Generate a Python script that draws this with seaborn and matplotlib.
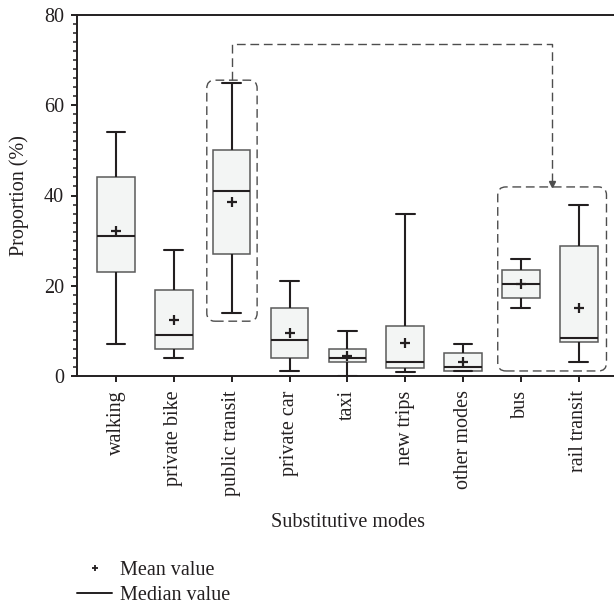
import numpy as np
import pandas as pd
import seaborn as sns
import matplotlib.pyplot as plt
from matplotlib.patches import FancyBboxPatch
from matplotlib.lines import Line2D
from matplotlib.ticker import MultipleLocator

# values (proportion, %)
modes = ["walking", "private bike", "public transit", "private car", "taxi",
         "new trips", "other modes", "bus", "rail transit"]
whisker_low = [7, 4, 14, 1, 0, 0.9, 1, 15, 3]
q1 = [23, 6, 27, 4, 3, 1.6, 1.1, 17.3, 7.4]
median = [31, 9, 41, 8, 4, 3, 2, 20.4, 8.4]
q3 = [44, 19, 50, 15, 6, 11, 5, 23.5, 28.7]
whisker_high = [54, 28, 65, 21, 10, 36, 7, 26, 38]
mean = [32.2, 12.4, 38.6, 9.5, 4.4, 7.3, 3.0, 20.4, 15.0]

# grouping annotation: public transit -> bus + rail transit
group_from = (1.57, 12.1, 2.44, 65.6)   # x0, y0, x1, y1
group_to = (6.60, 1.05, 8.48, 41.9)
link_x = (2.0, 7.53)
link_top = 73.6

ink = "#231f20"
dash_col = "#4d4d4d"
fs = 14.5

# five-number summaries as long-form rows so the box stats come out exact
rows = []
for i, m in enumerate(modes):
    for v in (whisker_low[i], q1[i], median[i], q3[i], whisker_high[i]):
        rows.append((m, v))
df = pd.DataFrame(rows, columns=["mode", "value"])

sns.set_style("ticks")
plt.rcParams["font.family"] = ["Liberation Serif", "DejaVu Serif"]
plt.rcParams["text.color"] = ink
plt.rcParams["axes.labelcolor"] = ink
plt.rcParams["xtick.color"] = ink
plt.rcParams["ytick.color"] = ink

fig = plt.figure(figsize=(6.14, 6.08), dpi=100)
ax = fig.add_axes([77 / 614, 1 - 375.7 / 608, 537 / 614, 360.4 / 608])

sns.boxplot(data=df, x="mode", y="value", order=modes, whis=np.inf,
            width=0.65, fliersize=0, ax=ax,
            boxprops=dict(facecolor="#f3f5f4", edgecolor="#5a5a5a", linewidth=1.1),
            medianprops=dict(color=ink, linewidth=1.5),
            whiskerprops=dict(color=ink, linewidth=1.5),
            capprops=dict(color=ink, linewidth=1.5))

sns.pointplot(x=modes, y=mean, order=modes, linestyle="none", marker="+",
              color=ink, markersize=6.5, markeredgewidth=1.6, errorbar=None,
              zorder=6, ax=ax)

# dashed rounded frames and the connecting arrow
aspect = 57.875 / 4.505
for x0, y0, x1, y1 in (group_from, group_to):
    ax.add_patch(FancyBboxPatch((x0, y0), x1 - x0, y1 - y0,
                                boxstyle="round,pad=0,rounding_size=0.14",
                                mutation_aspect=aspect, fill=False,
                                edgecolor=dash_col, linewidth=1.0,
                                linestyle=(0, (6.3, 3.4)), zorder=4))
ax.plot([link_x[0], link_x[0], link_x[1], link_x[1]],
        [group_from[3], link_top, link_top, group_to[3] + 0.6],
        color=dash_col, lw=1.0, ls=(0, (6.3, 3.4)), zorder=4)
ax.plot([link_x[1]], [group_to[3] + 0.6], marker="v", ms=4, color=dash_col,
        ls="none", zorder=4)

ax.set_xlim(-0.674, 8.61)
ax.set_ylim(0, 80)
ax.yaxis.set_major_locator(MultipleLocator(20))
ax.yaxis.set_minor_locator(MultipleLocator(2))
ax.set_xticks(range(len(modes)))
ax.set_xticklabels(modes, rotation=90, fontsize=fs)
ax.tick_params(axis="y", which="major", length=4.5, width=1.4, labelsize=fs, pad=5)
ax.tick_params(axis="y", which="minor", length=3, width=1.1)
ax.tick_params(axis="x", length=4.5, width=1.4, pad=6)

for side in ("left", "bottom", "top"):
    ax.spines[side].set_linewidth(1.4)
    ax.spines[side].set_color(ink)
ax.spines["right"].set_visible(False)

ax.set_ylabel("Proportion (%)", fontsize=fs)
ax.yaxis.set_label_coords(-0.089, 0.5)
ax.set_xlabel("Substitutive modes", fontsize=fs)
ax.xaxis.set_label_coords(0.504, -0.381)

handles = [Line2D([], [], ls="none", marker="+", color=ink, ms=5, mew=1.3),
           Line2D([], [], color=ink, lw=1.4)]
fig.legend(handles, ["Mean value", "Median value"], loc="upper left",
           bbox_to_anchor=(77 / 614, 1 - 561 / 608), frameon=False,
           borderpad=0, borderaxespad=0, handlelength=1.74,
           handletextpad=0.4, labelspacing=0.3, fontsize=fs)

fig.savefig("out.png", dpi=100)
